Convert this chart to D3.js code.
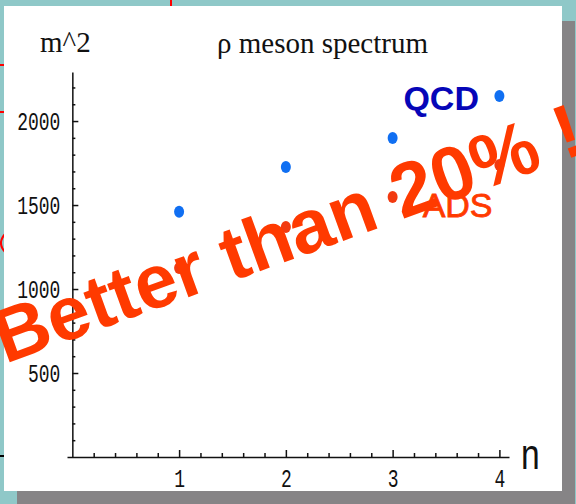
<!DOCTYPE html>
<html>
<head>
<meta charset="utf-8">
<script src="https://cdn.jsdelivr.net/npm/d3@7"></script>
<style>
  body { margin: 0; background: #8fc8c8; }
  svg { display: block; }
</style>
</head>
<body>
<script>
// rho meson masses squared
const nValues = [1, 2, 3, 4];
const qcdM2 = [1460, 1726, 1899, 2149];
const adsM2 = [1125, 1369, 1548, 1738];
const xTickValues = [1, 2, 3, 4];
const yTickValues = [500, 1000, 1500, 2000];

function main() {
    const svg = d3.select("body")
        .append("svg")
        .attr("width", 576)
        .attr("height", 504);

    // slide background
    svg.append("rect")
        .attr("width", 576).attr("height", 504)
        .attr("fill", "#8fc8c8");

    // bits of the slide peeking out behind the picture
    const bits = svg.append("g").attr("fill", "none").attr("stroke-width", 2);
    bits.append("line").attr("x1", 0).attr("x2", 6).attr("y1", 65).attr("y2", 65).attr("stroke", "#f00");
    bits.append("line").attr("x1", 0).attr("x2", 6).attr("y1", 112).attr("y2", 112).attr("stroke", "#f00");
    bits.append("line").attr("x1", 171).attr("x2", 171).attr("y1", 0).attr("y2", 7).attr("stroke", "#f00");
    bits.append("line").attr("x1", 0).attr("x2", 6).attr("y1", 456).attr("y2", 456).attr("stroke", "#000");
    bits.append("path").attr("d", "M6,233 Q-4,243 6,253").attr("stroke", "#f00");

    // shadow + white panel
    svg.append("rect")
        .attr("x", 17).attr("y", 21).attr("width", 558).attr("height", 483)
        .attr("fill", "#868486");
    svg.append("rect")
        .attr("x", 4).attr("y", 6).attr("width", 558).attr("height", 485)
        .attr("fill", "#fff");

    const x = d3.scaleLinear().domain([-0.05, 4.09]).range([67, 509]);
    const y = d3.scaleLinear().domain([0, 2292]).range([457, 72]);

    const minorX = d3.range(0.2, 4.01, 0.2).filter(v => Math.abs(v - Math.round(v)) > 0.01);
    const minorY = d3.range(100, 2201, 100).filter(v => v % 500 !== 0);

    const labelSquash = 0.72;

    // x axis: ticks pointing up, labels below
    svg.append("g")
        .attr("transform", `translate(0,${y(0)})`)
        .call(d3.axisBottom(x).tickValues(minorX).tickSizeInner(-4).tickSizeOuter(0).tickFormat(""))
        .call(g => g.select(".domain").remove());
    const xAxis = svg.append("g")
        .attr("transform", `translate(0,${y(0)})`)
        .call(d3.axisBottom(x).tickValues(xTickValues).tickSizeInner(-7).tickSizeOuter(0).tickPadding(12).tickFormat(d3.format("d")));

    // y axis: ticks pointing right, labels left
    svg.append("g")
        .attr("transform", `translate(${x(0)},0)`)
        .call(d3.axisLeft(y).tickValues(minorY).tickSizeInner(-3).tickSizeOuter(0).tickFormat(""))
        .call(g => g.select(".domain").remove());
    const yAxis = svg.append("g")
        .attr("transform", `translate(${x(0)},0)`)
        .call(d3.axisLeft(y).tickValues(yTickValues).tickSizeInner(-6).tickSizeOuter(0).tickPadding(12 / labelSquash).tickFormat(d3.format("d")));

    svg.selectAll(".domain, .tick line")
        .attr("stroke", "#111")
        .attr("stroke-width", 1.5);

    [xAxis, yAxis].forEach(a => a.selectAll("text")
        .attr("font-family", "'Liberation Mono', monospace")
        .attr("font-size", 25)
        .attr("fill", "#111")
        .attr("transform", `scale(${labelSquash},1)`));

    // titles
    svg.append("text")
        .attr("x", 40).attr("y", 52)
        .attr("font-family", "'Liberation Serif', serif")
        .attr("font-size", 29)
        .attr("fill", "#111")
        .text("m^2");
    svg.append("text")
        .attr("x", 217).attr("y", 53)
        .attr("font-family", "'Liberation Serif', serif")
        .attr("font-size", 29)
        .attr("fill", "#111")
        .text("ρ meson spectrum");
    svg.append("text")
        .attr("transform", "translate(521,469) scale(0.8,1)")
        .attr("font-family", "'Liberation Sans', Arial, sans-serif")
        .attr("font-size", 42)
        .attr("fill", "#111")
        .text("n");

    // points
    svg.append("g").selectAll("ellipse")
        .data(nValues.map((n, i) => ({ n, v: qcdM2[i] })))
        .enter()
        .append("ellipse")
        .attr("cx", d => x(d.n))
        .attr("cy", d => y(d.v))
        .attr("rx", 5).attr("ry", 6)
        .attr("fill", "#106ff2");
    svg.append("g").selectAll("ellipse")
        .data(nValues.map((n, i) => ({ n, v: adsM2[i] })))
        .enter()
        .append("ellipse")
        .attr("cx", d => x(d.n))
        .attr("cy", d => y(d.v))
        .attr("rx", 5).attr("ry", 6)
        .attr("fill", "#f23a10");

    // series labels
    svg.append("text")
        .attr("x", x(4) - 96).attr("y", y(qcdM2[3]) + 14)
        .attr("font-family", "'Liberation Sans', Arial, sans-serif")
        .attr("font-weight", "bold")
        .attr("font-size", 34)
        .attr("fill", "#0606b8")
        .text("QCD");
    svg.append("text")
        .attr("x", x(3) + 30).attr("y", y(adsM2[2]) + 20)
        .attr("font-family", "'Liberation Sans', Arial, sans-serif")
        .attr("font-size", 34)
        .attr("fill", "#ff3a00")
        .attr("stroke", "#ff3a00")
        .attr("stroke-width", 0.8)
        .text("ADS");

    // the big slide overlay
    svg.append("text")
        .attr("transform", "translate(5,364) rotate(-20)")
        .attr("font-family", "'Liberation Sans', Arial, sans-serif")
        .attr("font-weight", "bold")
        .attr("font-size", 76)
        .attr("fill", "#ff3a00")
        .text("Better than 20% !");
}

main();
</script>
</body>
</html>
